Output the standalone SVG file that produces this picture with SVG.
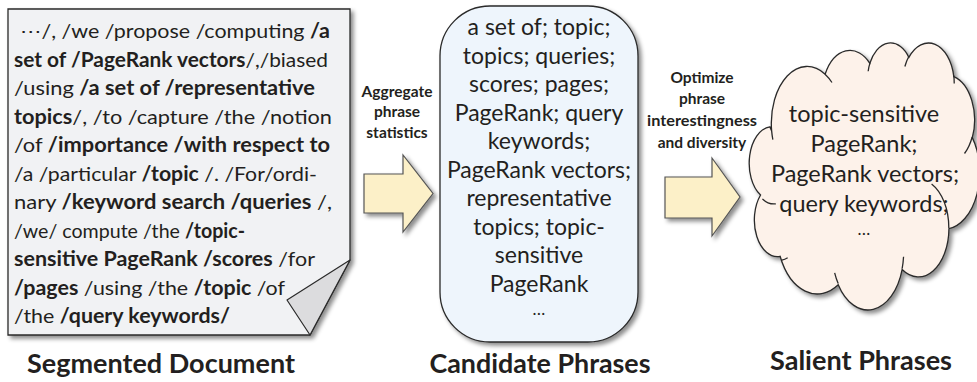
<svg xmlns="http://www.w3.org/2000/svg" width="977" height="382" viewBox="0 0 977 382">
<style>
  text { font-family: Lato, "Open Sans", "Liberation Sans", sans-serif; fill: #231f20; }
  .doc { font-size: 20px; }
  .b { font-weight: bold; }
  .cand { font-size: 23px; text-anchor: middle; }
  .cloudt { font-size: 23.5px; text-anchor: middle; }
  .dots { font-size: 17px; text-anchor: middle; }
  .lbl { font-size: 15.5px; font-weight: bold; text-anchor: middle; }
  .title { font-size: 26px; font-weight: bold; text-anchor: middle; }
  .arrow { fill: #fcf0c8; stroke: #555; stroke-width: 1.2; }
  .ol { stroke: #2a2a2a; stroke-width: 1.3; vector-effect: non-scaling-stroke; }
</style>
<defs>
  <filter id="shadow" x="-10%" y="-10%" width="125%" height="125%">
    <feDropShadow dx="3" dy="3" stdDeviation="2" flood-color="#000" flood-opacity="0.45"/>
  </filter>
</defs>

<g id="node-document">
  <path d="M8,9 H350 V260 L310,335 H8 Z" fill="#f1f2f4" class="ol" filter="url(#shadow)"/>
  <path d="M350,260 L287,300 L310,335 Z" fill="#dcdcde" stroke="#2a2a2a" stroke-width="1.2" stroke-linejoin="round"/>
  <text class="doc" x="20" y="38" textLength="310" lengthAdjust="spacingAndGlyphs">⋯/, /we /propose /computing <tspan class="b">/a</tspan></text>
  <text class="doc" x="14" y="66.5" textLength="314" lengthAdjust="spacingAndGlyphs"><tspan class="b">set of /PageRank vectors</tspan>/,/biased</text>
  <text class="doc" x="14" y="95" textLength="301" lengthAdjust="spacingAndGlyphs">/using <tspan class="b">/a set of /representative</tspan></text>
  <text class="doc" x="14" y="123.5" textLength="318" lengthAdjust="spacingAndGlyphs"><tspan class="b">topics</tspan>/, /to /capture /the /notion</text>
  <text class="doc" x="14" y="152" textLength="316" lengthAdjust="spacingAndGlyphs">/of <tspan class="b">/importance /with respect to</tspan></text>
  <text class="doc" x="14" y="180.5" textLength="303" lengthAdjust="spacingAndGlyphs">/a /particular <tspan class="b">/topic</tspan> /. /For/ordi-</text>
  <text class="doc" x="14" y="209" textLength="318" lengthAdjust="spacingAndGlyphs">nary <tspan class="b">/keyword search /queries</tspan> /,</text>
  <text class="doc" x="14" y="237.5" textLength="231" lengthAdjust="spacingAndGlyphs">/we/ compute /the <tspan class="b">/topic-</tspan></text>
  <text class="doc" x="14" y="266" textLength="301" lengthAdjust="spacingAndGlyphs"><tspan class="b">sensitive PageRank /scores</tspan> /for</text>
  <text class="doc" x="14" y="294.5" textLength="271" lengthAdjust="spacingAndGlyphs"><tspan class="b">/pages</tspan> /using /the <tspan class="b">/topic</tspan> /of</text>
  <text class="doc" x="14" y="323" textLength="216" lengthAdjust="spacingAndGlyphs">/the <tspan class="b">/query keywords/</tspan></text>
  <text class="title" x="161" y="373" textLength="268" lengthAdjust="spacingAndGlyphs">Segmented Document</text>
</g>

<g id="node-candidates">
  <rect x="440" y="6" width="198" height="336" rx="50" ry="50" fill="#eef5fc" class="ol" filter="url(#shadow)"/>
  <text class="cand" x="539" y="35">a set of; topic;</text>
  <text class="cand" x="539" y="63.5">topics; queries;</text>
  <text class="cand" x="539" y="92">scores; pages;</text>
  <text class="cand" x="539" y="120.5">PageRank; query</text>
  <text class="cand" x="539" y="149">keywords;</text>
  <text class="cand" x="539" y="177.5">PageRank vectors;</text>
  <text class="cand" x="539" y="206">representative</text>
  <text class="cand" x="539" y="234.5">topics; topic-</text>
  <text class="cand" x="539" y="263">sensitive</text>
  <text class="cand" x="539" y="291.5">PageRank</text>
  <text class="dots" x="539" y="315">…</text>
  <text class="title" x="540" y="373" textLength="221" lengthAdjust="spacingAndGlyphs">Candidate Phrases</text>
</g>

<g id="node-salient">
  <g filter="url(#shadow)">
    <path transform="translate(751,42.1) scale(0.0052917,0.0061782)" fill="#fdf2ea" class="ol"
      d="M3900,14370 A6753,9190 0 0 1 14006,5203 A5333,7267 0 0 1 22457,3433 A4365,5945 0 0 1 29833,2480 A4857,6595 0 0 1 38319,5575 A5333,7273 0 0 1 41819,15459 A6775,9220 0 0 1 37405,30201 A5785,7867 0 0 1 28557,36812 A6752,9215 0 0 1 16482,39265 A7720,10543 0 0 1 5500,34670 A4360,5918 0 0 1 1808,24750 A4345,5945 0 0 1 3558,13707 Z"/>
  </g>
  <path transform="translate(751,42.1) scale(0.0052917,0.0061782)" fill="none" class="ol"
    d="M4693,26177 A4345,5945 0 0 1 2160,25379 M6928,34899 A4360,5918 0 0 1 5819,35281 M16478,39090 A6752,9215 0 0 1 15809,37349 M28827,34751 A6752,9215 0 0 1 28560,36660 M34129,22954 A5785,7867 0 0 1 37380,30089 M41798,15354 A5333,7273 0 0 1 40349,18031 M38324,5426 A4857,6595 0 0 1 38400,6690 M29078,3952 A4857,6595 0 0 1 29820,2340 M22141,4720 A4365,5945 0 0 1 22500,3330 M14000,5192 A6753,9190 0 0 1 15299,6540 M4127,15789 A6753,9190 0 0 1 3901,14370"/>
  <text class="cloudt" x="864" y="121.5">topic-sensitive</text>
  <text class="cloudt" x="864" y="151.5">PageRank;</text>
  <text class="cloudt" x="865" y="181.5">PageRank vectors;</text>
  <text class="cloudt" x="864" y="211.5">query keywords;</text>
  <text class="dots" x="864" y="235">…</text>
  <text class="title" x="861" y="370" textLength="182" lengthAdjust="spacingAndGlyphs">Salient Phrases</text>
</g>

<g id="connectors">
  <g id="arrow-aggregate">
    <path class="arrow" filter="url(#shadow)" d="M364,174 H403 V155 L433,193.5 L403,232 V213 H364 Z"/>
    <text class="lbl" x="397" y="97">Aggregate</text>
    <text class="lbl" x="397" y="117">phrase</text>
    <text class="lbl" x="397" y="138">statistics</text>
  </g>
  <g id="arrow-optimize">
    <path class="arrow" filter="url(#shadow)" d="M665,177 H712 V158 L740,197 L712,236 V218 H665 Z"/>
    <text class="lbl" x="702" y="83">Optimize</text>
    <text class="lbl" x="702" y="104">phrase</text>
    <text class="lbl" x="702" y="126" textLength="110" lengthAdjust="spacingAndGlyphs">interestingness</text>
    <text class="lbl" x="702" y="148">and diversity</text>
  </g>
</g>
</svg>
